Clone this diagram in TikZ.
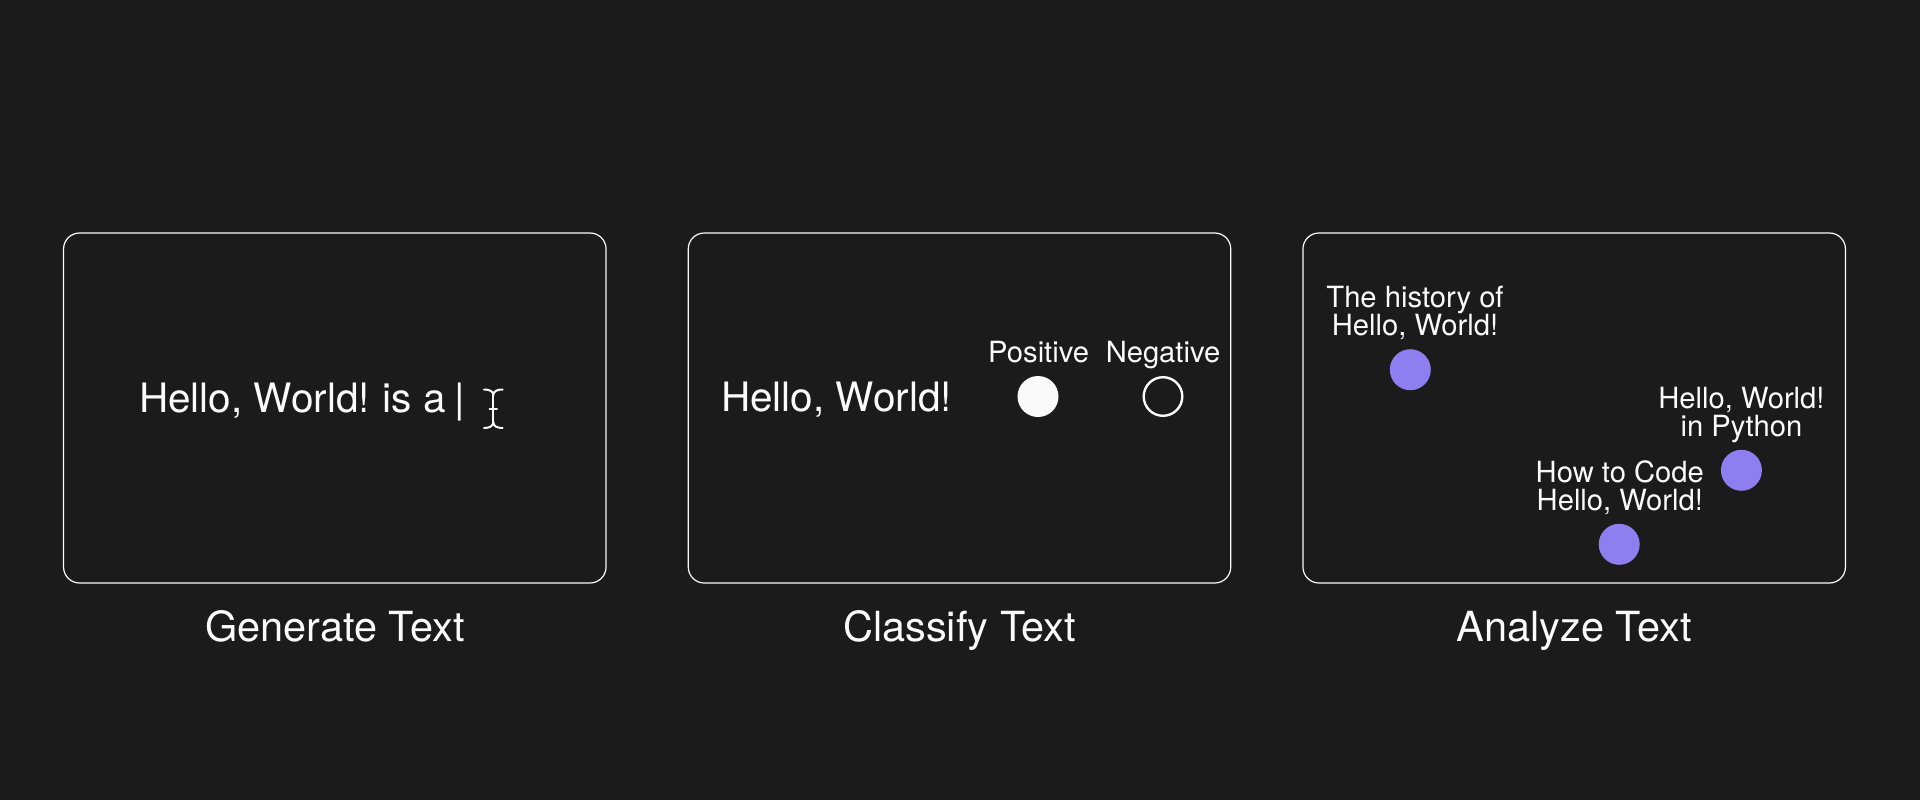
\documentclass[tikz,border=0pt]{standalone}
\usepackage{fontspec}
\setmainfont{TeX Gyre Heros}
\definecolor{bg}{HTML}{1B1B1B}
\definecolor{dot}{HTML}{8F7EF0}
\definecolor{fg}{HTML}{FAFAFA}
\begin{document}
\begin{tikzpicture}[x=1pt,y=-1pt,
  card/.style={draw=fg, line width=1.2pt, rounded corners=16pt, minimum width=542.5pt, minimum height=350pt, inner sep=0pt, fill=bg},
  big/.style={text=fg, inner sep=0pt, font=\fontsize{40.5}{44}\selectfont},
  title/.style={text=fg, inner sep=0pt, font=\fontsize{41.5}{44}\selectfont},
  small/.style={text=fg, inner sep=0pt, align=center, font=\fontsize{29.2}{28}\selectfont},
  pdot/.style={circle, fill=dot, minimum size=41pt, inner sep=0pt},
  wdot/.style={circle, fill=fg, minimum size=41pt, inner sep=0pt},
  odot/.style={circle, draw=fg, line width=2.4pt, minimum size=38.6pt, inner sep=0pt},
  beam/.style={draw=fg, line width=2pt, line cap=round}]
\fill[bg] (0,0) rectangle (1920,800);
\useasboundingbox (0,0) rectangle (1920,800);
% cards
\node[card] (c1) at (334.8,408) {};
\node[card] (c2) at (959.5,408) {};
\node[card] (c3) at (1574.2,408) {};
% titles
\node[title, anchor=base] (t1) at (334.8,641) {Generate Text};
\node[title, anchor=base] (t2) at (959.5,641) {Classify Text};
\node[title, anchor=base] (t3) at (1574.2,641) {Analyze Text};
% card 1
\node[big, anchor=base west] (gen) at (139,412) {Hello, World!\kern-2pt{} is a \kern-3pt|};
\draw[beam] (484,389.5) .. controls (489,389.5) and (493.3,391) .. (493.3,395)
            .. controls (493.3,391) and (497.6,389.5) .. (502.6,389.5);
\draw[beam] (493.3,395) -- (493.3,422);
\draw[beam] (489.5,409) -- (497,409);
\draw[beam] (484,428) .. controls (489,428) and (493.3,426.5) .. (493.3,422)
            .. controls (493.3,426.5) and (497.6,428) .. (502.6,428);
% card 2
\node[big, anchor=base west] (cls) at (721,411) {Hello, World!};
\node[wdot] (pos) at (1038,396.5) {};
\node[odot] (neg) at (1163,396.5) {};
\node[small, anchor=base] (posl) at (1038.6,362.7) {Positive};
\node[small, anchor=base] (negl) at (1163,362.7) {Negative};
% card 3
\node[pdot] (d1) at (1410.3,369.7) {};
\node[pdot] (d2) at (1741.4,470.3) {};
\node[pdot] (d3) at (1619.2,544.3) {};
\node[small, anchor=base] (l1) at (1415,335) {The history of\\Hello, World!};
\node[small, anchor=base] (l2) at (1741.4,436.7) {Hello, World!\\in Python};
\node[small, anchor=base] (l3) at (1619.8,510.7) {How to Code\\Hello, World!};
\end{tikzpicture}
\end{document}
